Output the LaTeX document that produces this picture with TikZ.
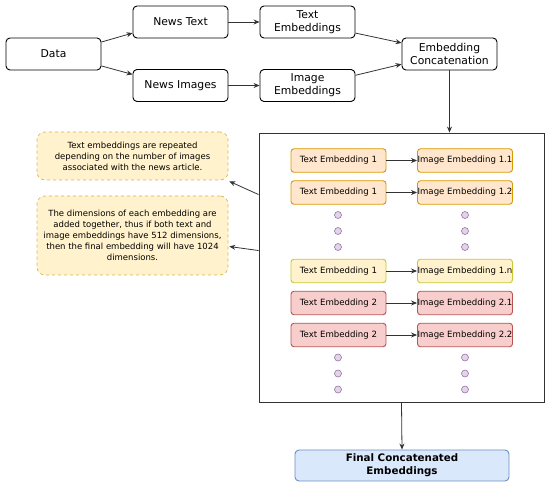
\documentclass[tikz,border=0pt]{standalone}
\usepackage{fontspec}
\setmainfont{DejaVu Sans}
\usetikzlibrary{calc,arrows.meta}
\definecolor{ln}{HTML}{333333}
\definecolor{notefill}{HTML}{FFF2CC}
\definecolor{notedraw}{HTML}{D6B656}
\definecolor{orfill}{HTML}{FFE6CC}
\definecolor{ordraw}{HTML}{D79B00}
\definecolor{ylfill}{HTML}{FFF2CC}
\definecolor{yldraw}{HTML}{C8C832}
\definecolor{rdfill}{HTML}{F8CECC}
\definecolor{rddraw}{HTML}{B85450}
\definecolor{dotfill}{HTML}{E1D5E7}
\definecolor{dotdraw}{HTML}{9673A6}
\definecolor{blfill}{HTML}{DAE8FC}
\definecolor{bldraw}{HTML}{6C8EBF}
\tikzset{
  mainbox/.style={draw=black, line width=0.9pt, rounded corners=4pt, minimum width=95pt, minimum height=32pt, align=center, font=\fontsize{10.8}{13}\selectfont, inner sep=1pt},
  notebox/.style={draw=notedraw, fill=notefill, dashed, line width=0.7pt, rounded corners=8pt, minimum width=191pt, align=center, font=\fontsize{8.5}{11}\selectfont, inner sep=1pt},
  embbox/.style={line width=0.9pt, rounded corners=3pt, minimum width=95pt, minimum height=23.5pt, font=\fontsize{8.6}{10}\selectfont, inner sep=0pt},
  orbox/.style={embbox, draw=ordraw, fill=orfill},
  ylbox/.style={embbox, draw=yldraw, fill=ylfill},
  rdbox/.style={embbox, draw=rddraw, fill=rdfill},
  dotc/.style={circle, draw=dotdraw, fill=dotfill, line width=0.6pt, minimum size=7pt, inner sep=0pt},
  arr/.style={draw=ln, line width=0.8pt, -{Stealth[length=6pt,width=5pt]}},
}
\begin{document}
\begin{tikzpicture}[x=1pt,y=-1pt]
\useasboundingbox (0,0) rectangle (550,486);
% top flow
\node[mainbox] (data) at (53.5,54) {Data};
\node[mainbox] (nt) at (180.5,22) {News Text};
\node[mainbox] (ni) at (180.5,85.5) {News Images};
\node[mainbox] (te) at (307.5,22) {Text\\Embeddings};
\node[mainbox] (ie) at (307.5,85.5) {Image\\Embeddings};
\node[mainbox] (ec) at (449.5,54) {Embedding\\Concatenation};
\draw[arr] (data.14) -- (nt.193);
\draw[arr] (data.-14) -- (ni.167);
\draw[arr] (nt.east) -- (te.west);
\draw[arr] (ni.east) -- (ie.west);
\draw[arr] (te.-13) -- (ec.167);
\draw[arr] (ie.12.5) -- (ec.192);
% big box
\node[draw=ln, line width=0.9pt, minimum width=285pt, minimum height=269pt, inner sep=0pt] (big) at (401.5,267.5) {};
\draw[arr] (ec.south) -- (ec.south |- big.north);
% embedding rows
\node[orbox] (t1) at (338.5,160.5) {Text Embedding 1};
\node[orbox] (i1) at (465,160.5) {Image Embedding 1.1};
\node[orbox] (t2) at (338.5,192.5) {Text Embedding 1};
\node[orbox] (i2) at (465,192.5) {Image Embedding 1.2};
\node[ylbox] (t3) at (338.5,271) {Text Embedding 1};
\node[ylbox] (i3) at (465,271) {Image Embedding 1.n};
\node[rdbox] (t4) at (338.5,303) {Text Embedding 2};
\node[rdbox] (i4) at (465,303) {Image Embedding 2.1};
\node[rdbox] (t5) at (338.5,335) {Text Embedding 2};
\node[rdbox] (i5) at (465,335) {Image Embedding 2.2};
\foreach \a/\b in {t1/i1,t2/i2,t3/i3,t4/i4,t5/i5}{\draw[arr] (\a.east) -- (\b.west);}
% dots
\node[dotc] (da1) at (338,215) {};
\node[dotc] (da2) at (338,231) {};
\node[dotc] (da3) at (338,247) {};
\node[dotc] (db1) at (465,215) {};
\node[dotc] (db2) at (465,231) {};
\node[dotc] (db3) at (465,247) {};
\node[dotc] (dc1) at (338,357.5) {};
\node[dotc] (dc2) at (338,373.5) {};
\node[dotc] (dc3) at (338,389.5) {};
\node[dotc] (dd1) at (465,357.5) {};
\node[dotc] (dd2) at (465,373.5) {};
\node[dotc] (dd3) at (465,389.5) {};
% notes
\node[notebox, minimum height=48pt] (n1) at (132.5,156) {Text embeddings are repeated\\depending on the number of images\\associated with the news article.};
\node[notebox, minimum height=79pt] (n2) at (132.5,235.5) {The dimensions of each embedding are\\added together, thus if both text and\\image embeddings have 512 dimensions,\\then the final embedding will have 1024\\dimensions.};
\coordinate (b1) at ($(big.north west)+(0,62)$);
\coordinate (b2) at ($(big.north west)+(0,118)$);
\draw[arr] (b1) -- ($(n1.south east)+(1,1)$);
\draw[arr] (b2) -- ($(n2.east)+(1,11)$);
% final
\node[draw=bldraw, fill=blfill, line width=0.9pt, rounded corners=4pt, minimum width=214pt, minimum height=31pt, align=center, font=\bfseries\fontsize{10.3}{13}\selectfont, inner sep=1pt] (fin) at (402,465.5) {Final Concatenated\\Embeddings};
\draw[arr] (big.south) -- (fin.north);
\end{tikzpicture}
\end{document}
